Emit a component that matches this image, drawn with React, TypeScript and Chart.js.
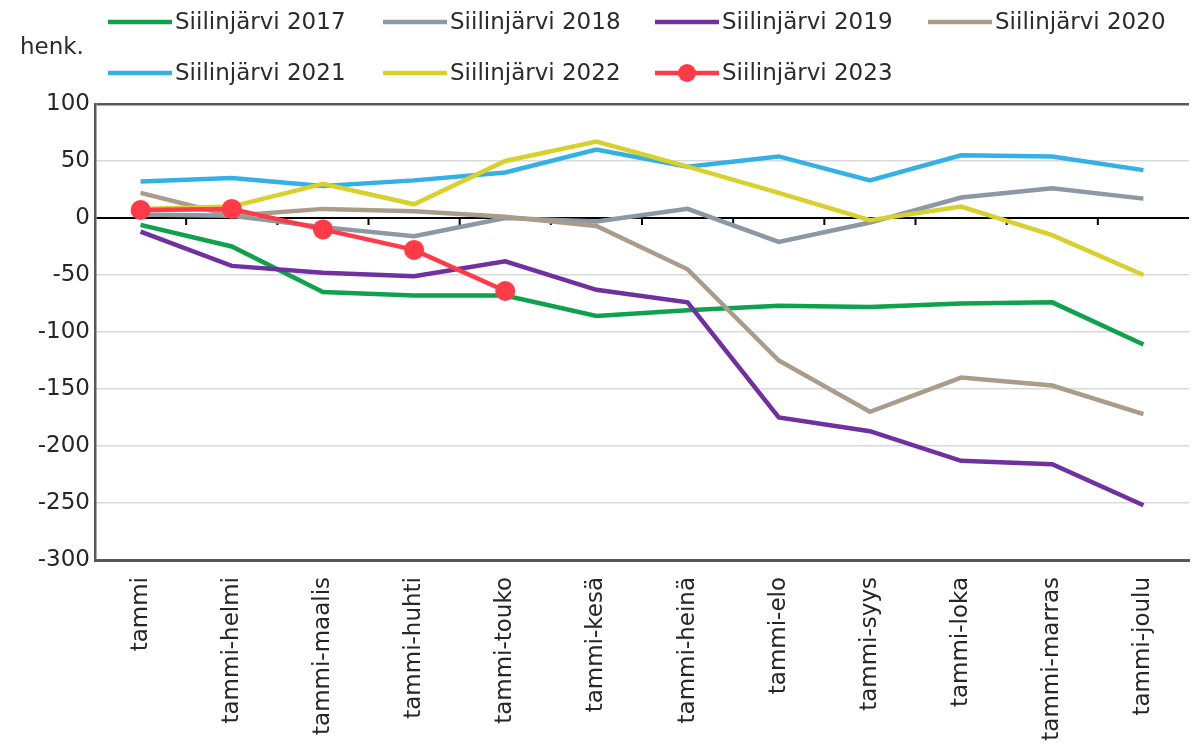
import React, { useEffect, useRef } from "react";
import { Chart, registerables } from "chart.js";

Chart.register(...registerables);

const categories = [
  "tammi",
  "tammi-helmi",
  "tammi-maalis",
  "tammi-huhti",
  "tammi-touko",
  "tammi-kesä",
  "tammi-heinä",
  "tammi-elo",
  "tammi-syys",
  "tammi-loka",
  "tammi-marras",
  "tammi-joulu",
];

const seriesLabels = [
  "Siilinjärvi 2017",
  "Siilinjärvi 2018",
  "Siilinjärvi 2019",
  "Siilinjärvi 2020",
  "Siilinjärvi 2021",
  "Siilinjärvi 2022",
  "Siilinjärvi 2023",
];

const s2017 = [-6, -25, -65, -68, -68, -86, -81, -77, -78, -75, -74, -111];
const s2018 = [3, 2, -8, -16, 0, -3, 8, -21, -4, 18, 26, 17];
const s2019 = [-12, -42, -48, -51, -38, -63, -74, -175, -187, -213, -216, -252];
const s2020 = [22, 2, 8, 6, 1, -7, -45, -125, -170, -140, -147, -172];
const s2021 = [32, 35, 28, 33, 40, 60, 45, 54, 33, 55, 54, 42];
const s2022 = [8, 10, 30, 12, 50, 67, 45, 22, -2, 10, -15, -50];
const s2023 = [7, 8, -10, -28, -64];

const yMin = -300;
const yMax = 100;
const yStep = 50;

const colors = ["#0fa24c", "#8c98a4", "#7030a0", "#ab9b8b", "#33b0e6", "#d8d02c", "#ff3b47"];

const FONT = "'DejaVu Sans', sans-serif";
const FONT_SIZE = 23;

const legendPlugin = {
  id: "customLegend",
  afterDraw(chart: any) {
    const ctx = chart.ctx;
    ctx.save();
    ctx.font = `${FONT_SIZE}px ${FONT}`;
    ctx.textBaseline = "middle";
    ctx.fillStyle = "#2b2b2b";
    ctx.textAlign = "left";
    ctx.fillText("henk.", 20, 48);
    const textStarts = [175, 450, 722, 995];
    const rows = [22, 73];
    const lineLen = 64;
    chart.data.datasets.forEach((ds: any, i: number) => {
      const tx = textStarts[i % 4];
      const x = tx - lineLen - 3;
      const y = rows[Math.floor(i / 4)];
      ctx.strokeStyle = ds.borderColor;
      ctx.lineWidth = 4.5;
      ctx.beginPath();
      ctx.moveTo(x, y);
      ctx.lineTo(x + lineLen, y);
      ctx.stroke();
      if (ds.pointRadius > 0) {
        ctx.fillStyle = ds.borderColor;
        ctx.beginPath();
        ctx.arc(x + lineLen / 2, y, 9, 0, Math.PI * 2);
        ctx.fill();
      }
      ctx.fillStyle = "#2b2b2b";
      ctx.fillText(ds.label, tx, y + 1);
    });
    ctx.restore();
  },
};

const zeroTicksPlugin = {
  id: "zeroTicks",
  beforeDatasetsDraw(chart: any) {
    const ctx = chart.ctx;
    const xs = chart.scales.x;
    const ys = chart.scales.y;
    const y0 = ys.getPixelForValue(0);
    ctx.save();
    ctx.strokeStyle = "#000000";
    ctx.lineWidth = 2;
    for (let i = 0; i < categories.length - 1; i++) {
      const x = (xs.getPixelForValue(i) + xs.getPixelForValue(i + 1)) / 2;
      ctx.beginPath();
      ctx.moveTo(x, y0);
      ctx.lineTo(x, y0 + 7);
      ctx.stroke();
    }
    ctx.restore();
  },
};

export default function App() {
  const ref = useRef<HTMLCanvasElement>(null);

  useEffect(() => {
    if (!ref.current) return;
    const all = [s2017, s2018, s2019, s2020, s2021, s2022, s2023];
    const chart = new Chart(ref.current, {
      type: "line",
      data: {
        labels: categories,
        datasets: all.map((d, i) => ({
          label: seriesLabels[i],
          data: d,
          borderColor: colors[i],
          backgroundColor: colors[i],
          borderWidth: 4.5,
          pointRadius: i === 6 ? 10 : 0,
          pointHoverRadius: i === 6 ? 10 : 0,
          pointBorderWidth: 0,
          tension: 0,
          fill: false,
          order: 6 - i,
        })),
      },
      options: {
        animation: false,
        responsive: false,
        maintainAspectRatio: false,
        layout: { padding: { top: 104, left: 0, right: 0, bottom: 0 } },
        plugins: {
          legend: { display: false },
          tooltip: { enabled: false },
          title: { display: false },
        },
        scales: {
          x: {
            type: "category",
            offset: true,
            grid: { display: false, drawTicks: false },
            border: { display: true, color: "#595959", width: 3 },
            ticks: {
              autoSkip: false,
              maxRotation: 90,
              minRotation: 90,
              padding: 17,
              color: "#262626",
              font: { family: FONT, size: FONT_SIZE },
            },
            afterFit: (s: any) => {
              s.height = 184;
            },
          },
          y: {
            min: yMin,
            max: yMax,
            ticks: {
              stepSize: yStep,
              padding: 5,
              color: "#262626",
              font: { family: FONT, size: FONT_SIZE },
            },
            grid: {
              drawTicks: false,
              color: (c: any) =>
                c.tick && c.tick.value === 0
                  ? "#000000"
                  : c.tick && (c.tick.value === yMax || c.tick.value === yMin)
                  ? "#595959"
                  : "#d9d9d9",
              lineWidth: (c: any) =>
                c.tick && c.tick.value === 0
                  ? 2
                  : c.tick && (c.tick.value === yMax || c.tick.value === yMin)
                  ? 2.5
                  : 1.5,
            },
            border: { display: true, color: "#595959", width: 2.5 },
            afterFit: (s: any) => {
              s.width = 95;
            },
          },
        },
      },
      plugins: [legendPlugin, zeroTicksPlugin],
    });
    return () => chart.destroy();
  }, []);

  return (
    <div
      style={{
        position: "fixed",
        left: 0,
        top: 0,
        width: 1195,
        height: 744,
        overflow: "hidden",
        background: "#ffffff",
      }}
    >
      <canvas ref={ref} width={1199} height={744} style={{ width: 1199, height: 744 }} />
    </div>
  );
}
